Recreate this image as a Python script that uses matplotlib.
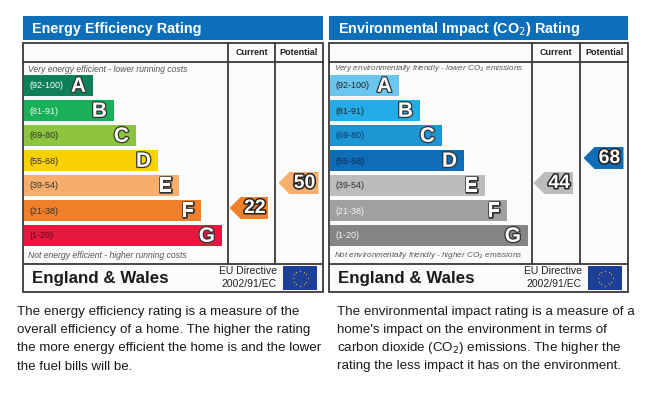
import matplotlib
matplotlib.use("Agg")
import matplotlib.pyplot as plt
import matplotlib.patheffects as pe
from matplotlib.patches import Rectangle, Polygon
import numpy as np

plt.rcParams['font.family'] = ['Liberation Sans', 'DejaVu Sans']

# ---- data ----
bands = ["A", "B", "C", "D", "E", "F", "G"]
ranges = ["(92-100)", "(81-91)", "(69-80)", "(55-68)", "(39-54)", "(21-38)", "(1-20)"]
range_lo = [92, 81, 69, 55, 39, 21, 1]
ee_colors = ["#0f7f5a", "#1ab05a", "#8cc43f", "#f7d100", "#f7ad6b", "#f07f29", "#e8173f"]
ee_label_colors = ["#ffffff", "#e8f5ec", "#333333", "#333333", "#333333", "#333333", "#5a0a18"]
co2_colors = ["#6ac6ef", "#22ade8", "#1c96d3", "#0f6cb6", "#bcbcbc", "#a0a0a0", "#858585"]
co2_label_colors = ["#222222", "#222222", "#0b3a66", "#0b2f55", "#333333", "#f4f4f4", "#f4f4f4"]
ee_current, ee_potential = 22, 50
co2_current, co2_potential = 44, 68
ee_title = "Energy Efficiency Rating"
co2_title = "Environmental Impact (CO$_2$) Rating"
ee_top_note = "Very energy efficient - lower running costs"
ee_bottom_note = "Not energy efficient - higher running costs"
co2_top_note = "Very environmentally friendly - lower CO$_2$ emissions"
co2_bottom_note = "Not environmentally friendly - higher CO$_2$ emissions"
ee_text = ["The energy efficiency rating is a measure of the",
           "overall efficiency of a home. The higher the rating",
           "the more energy efficient the home is and the lower",
           "the fuel bills will be."]
co2_text = ["The environmental impact rating is a measure of a",
            "home's impact on the environment in terms of",
            "carbon dioxide (CO$_2$) emissions. The higher the",
            "rating the less impact it has on the environment."]

W, H = 656, 403
fig = plt.figure(figsize=(W / 100, H / 100), dpi=100)
ax = fig.add_axes([0, 0, 1, 1])
ax.set_xlim(0, W)
ax.set_ylim(H, 0)
ax.axis("off")

HEADER_BLUE = "#0d6fba"
BORDER = "#3a3a3a"
bar_widths = [69, 90, 112, 134, 155, 177, 198]
row_top0, row_pitch, row_h = 75, 25, 21


def band_index(v):
    for i, lo in enumerate(range_lo):
        if v >= lo:
            return i
    return len(range_lo) - 1


def arrow(x0, x1, yc, h, color, value):
    tip = 11
    pts = [(x0, yc), (x0 + tip, yc - h / 2), (x1, yc - h / 2), (x1, yc + h / 2), (x0 + tip, yc + h / 2)]
    ax.add_patch(Polygon(pts, closed=True, facecolor=color, edgecolor="none", zorder=3))
    ax.text((x0 + tip + x1) / 2 + 0.5, yc + 0.5, str(value), ha="center", va="center",
            fontsize=14, fontweight="bold", color="white", zorder=4,
            path_effects=[pe.withStroke(linewidth=2.2, foreground="#222222")])


def eu_flag(x0, y0, w, h):
    ax.add_patch(Rectangle((x0, y0), w, h, facecolor="#1d3f9a", edgecolor="none", zorder=3))
    cx, cy = x0 + w / 2, y0 + h / 2
    ang = np.linspace(0, 2 * np.pi, 13)[:-1]
    ax.scatter(cx + 7.5 * np.cos(ang), cy + 7.5 * np.sin(ang), s=2.0, c="#ffdd00",
               marker="*", zorder=4, linewidths=0)


def panel(x0, x1, col1, col2, title, title_size, note_size, colors, label_colors, top_note, bottom_note,
          cur, pot, body, body_x):
    # header
    ax.add_patch(Rectangle((x0, 16), x1 - x0, 24, facecolor=HEADER_BLUE, edgecolor="none"))
    ax.text(x0 + 9, 28.5, title, ha="left", va="center", fontsize=title_size, fontweight="bold", color="white")
    # box
    ax.add_patch(Rectangle((x0, 43), x1 - x0, 249, facecolor="#fbfbfb", edgecolor=BORDER, linewidth=1.3, zorder=1))
    ax.plot([x0, x1], [62, 62], color=BORDER, lw=1.3, zorder=2)
    ax.plot([x0, x1], [264, 264], color=BORDER, lw=1.3, zorder=2)
    ax.plot([col1, col1], [43, 264], color=BORDER, lw=1.3, zorder=2)
    ax.plot([col2, col2], [43, 264], color=BORDER, lw=1.3, zorder=2)
    ax.text((col1 + col2) / 2, 52.5, "Current", ha="center", va="center", fontsize=6.5, fontweight="bold", color="#222222")
    ax.text((col2 + x1) / 2, 52.5, "Potential", ha="center", va="center", fontsize=6.5, fontweight="bold", color="#222222")
    ax.text(x0 + 5, 69, top_note, ha="left", va="center", fontsize=note_size, style="italic", color="#555555")
    ax.text(x0 + 5, 255.5, bottom_note, ha="left", va="center", fontsize=note_size, style="italic", color="#555555")
    for i, (b, r, c, lc, w) in enumerate(zip(bands, ranges, colors, label_colors, bar_widths)):
        top = row_top0 + i * row_pitch
        ax.add_patch(Rectangle((x0 + 1, top), w, row_h, facecolor=c, edgecolor="none", zorder=2))
        ax.text(x0 + 7, top + row_h / 2 + 0.5, r, ha="left", va="center", fontsize=6.5, color=lc, zorder=3)
        ax.text(x0 + 1 + w - 7, top + row_h / 2 + 0.8, b, ha="right", va="center", fontsize=15,
                fontweight="bold", color="white", zorder=3,
                path_effects=[pe.withStroke(linewidth=1.8, foreground="#333333")])
    # arrows
    ci = band_index(cur)
    pi = band_index(pot)
    yc = row_top0 + ci * row_pitch + row_h / 2 - 2.5
    arrow(col1 + 1.5, col2 - 7, yc, 22, colors[ci], cur)
    yp = row_top0 + pi * row_pitch + row_h / 2 - 2.5
    arrow(col2 + 3.5, x1 - 4.5, yp, 22, colors[pi], pot)
    # footer
    ax.text(x0 + 9, 278, "England & Wales", ha="left", va="center", fontsize=12.2, fontweight="bold", color="#1a1a1a")
    ax.text(col2 + 2, 271, "EU Directive", ha="right", va="center", fontsize=7.5, color="#222222")
    ax.text(col2 + 2, 284, "2002/91/EC", ha="right", va="center", fontsize=7.5, color="#222222")
    eu_flag(col2 + 8, 266, 34, 24)
    # body text
    for j, line in enumerate(body):
        ax.text(body_x, 312.5 + j * 18, line, ha="left", va="center", fontsize=9.6, color="#1a1a1a")


panel(23, 323, 228, 275, ee_title, 10.4, 6.2, ee_colors, ee_label_colors, ee_top_note, ee_bottom_note,
      ee_current, ee_potential, ee_text, 17)
panel(329, 628, 532, 580, co2_title, 10.4, 5.9, co2_colors, co2_label_colors, co2_top_note, co2_bottom_note,
      co2_current, co2_potential, co2_text, 337)

fig.savefig("out.png", dpi=100, facecolor="white")
